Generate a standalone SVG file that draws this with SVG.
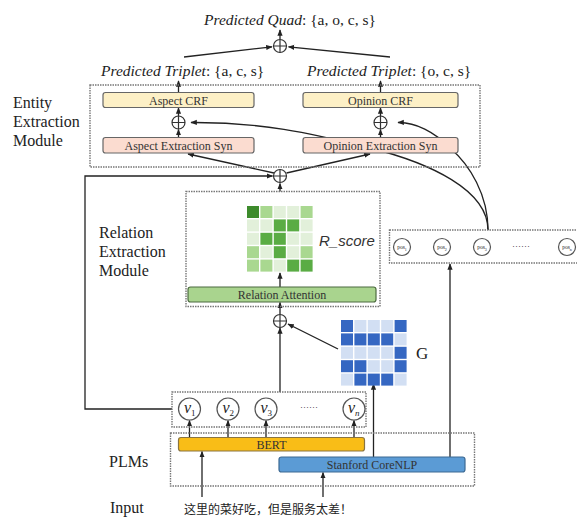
<svg xmlns="http://www.w3.org/2000/svg" width="577" height="517" viewBox="0 0 577 517">
<defs>
<marker id="arr" viewBox="0 0 10 10" refX="9" refY="5" markerWidth="5" markerHeight="5" orient="auto"><path d="M0,1L10,5L0,9z" fill="#222"/></marker>
<g id="oplus"><circle r="6.5" fill="#fff" stroke="#333" stroke-width="1.2"/><path d="M-6.5,0H6.5M0,-6.5V6.5" stroke="#333" stroke-width="1.2"/></g>
</defs>
<style>
.t{font-family:"Liberation Serif","Times New Roman",serif;fill:#222}
.lbl{font-size:16px}
.hd{font-size:15.5px}
.it{font-style:italic}
.bx{font-size:12px;text-anchor:middle;fill:#333}
.dot{fill:none;stroke:#777;stroke-width:1.4;stroke-dasharray:1.5 1}
.ln{fill:none;stroke:#222;stroke-width:1.3;marker-end:url(#arr)}
.pl{fill:none;stroke:#222;stroke-width:1.3}
.crf{fill:#fdf0c6;stroke:#666;stroke-width:1.2}
.syn{fill:#fbdcd0;stroke:#666;stroke-width:1.2}
.cir{fill:#fff;stroke:#555;stroke-width:1.2}
.g1{fill:#3d8b2c}.g2{fill:#5aac44}.g3{fill:#a9d890}.g4{fill:#e2f0da}
.b1{fill:#3567c2}.b2{fill:#d2dff3}
</style>
<rect width="577" height="517" fill="#fff"/>

<g id="connectors">
<path class="ln" d="M280,39V30"/>
<path class="ln" d="M184,57L272,46.8"/>
<path class="ln" d="M390,57L288.5,46.8"/>
<path class="ln" d="M178.5,92.5V81"/>
<path class="ln" d="M380.5,92.5V81"/>
<path class="ln" d="M178.5,116V108"/>
<path class="ln" d="M178.5,137.5V129.5"/>
<path class="ln" d="M380.5,116V108"/>
<path class="ln" d="M380.5,137.5V129.5"/>
<path class="ln" d="M274,173L188,154"/>
<path class="ln" d="M286.5,173L370,154"/>
<path class="ln" d="M280,191.5V183.5"/>
<path class="ln" d="M172,409H85V176H272.5"/>
<path class="ln" d="M488,230C488,190 430,163 370,148S260,122 191,122.5"/>
<path class="ln" d="M488,230C488,195 470,165 450,148C435,132 415,122 398,122.5"/>
<path class="ln" d="M280,287V273"/>
<path class="ln" d="M280,314V302.5"/>
<path class="ln" d="M338,349L288,324"/>
<path class="ln" d="M280,392V328"/>
<path class="ln" d="M189.5,437.5V420.5"/>
<path class="ln" d="M228,437.5V420.5"/>
<path class="ln" d="M266,437.5V420.5"/>
<path class="ln" d="M354,437.5V420.5"/>
<path class="ln" d="M373.5,457V384"/>
<path class="ln" d="M450,457V264"/>
<path class="ln" d="M202,497V451.5"/>
<path class="ln" d="M323,497V472.5"/>
</g>

<g id="predicted-quad"><text class="t hd" x="204" y="25"><tspan class="it">Predicted Quad</tspan>: {a, o, c, s}</text></g>
<g id="oplus-top"><use href="#oplus" x="280" y="46"/></g>
<g id="triplet-aspect"><text class="t hd" x="101" y="76"><tspan class="it">Predicted Triplet</tspan>: {a, c, s}</text></g>
<g id="triplet-opinion"><text class="t hd" x="307" y="76"><tspan class="it">Predicted Triplet</tspan>: {o, c, s}</text></g>

<g id="entity-module">
<rect class="dot" x="90" y="85" width="390" height="82"/>
<text class="t lbl" x="13" y="108">Entity</text>
<text class="t lbl" x="13" y="127">Extraction</text>
<text class="t lbl" x="13" y="146">Module</text>
</g>
<g id="aspect-crf"><rect class="crf" x="103" y="92.5" width="151" height="15" rx="2.5"/><text class="t bx" x="178.5" y="104.5">Aspect CRF</text></g>
<g id="opinion-crf"><rect class="crf" x="303" y="92.5" width="155" height="15" rx="2.5"/><text class="t bx" x="380.5" y="104.5">Opinion CRF</text></g>
<g id="oplus-aspect"><use href="#oplus" x="178.5" y="122.5"/></g>
<g id="oplus-opinion"><use href="#oplus" x="380.5" y="122.5"/></g>
<g id="aspect-syn"><rect class="syn" x="103" y="137.5" width="151" height="15.5" rx="2.5"/><text class="t bx" x="178.5" y="149.5">Aspect Extraction Syn</text></g>
<g id="opinion-syn"><rect class="syn" x="303" y="137.5" width="155" height="15.5" rx="2.5"/><text class="t bx" x="380.5" y="149.5">Opinion Extraction Syn</text></g>
<g id="oplus-mid"><use href="#oplus" x="280" y="176"/></g>

<g id="relation-module">
<rect class="dot" x="186" y="191.5" width="194" height="115"/>
<text class="t lbl" x="99" y="238">Relation</text>
<text class="t lbl" x="99" y="257">Extraction</text>
<text class="t lbl" x="99" y="276">Module</text>
</g>
<g id="r-score">
<rect class="g1" x="247" y="206" width="12" height="12"/><rect class="g3" x="260.4" y="206" width="12" height="12"/><rect class="g4" x="273.8" y="206" width="12" height="12"/><rect class="g4" x="287.2" y="206" width="12" height="12"/><rect class="g3" x="300.6" y="206" width="12" height="12"/>
<rect class="g4" x="247" y="219.4" width="12" height="12"/><rect class="g4" x="260.4" y="219.4" width="12" height="12"/><rect class="g2" x="273.8" y="219.4" width="12" height="12"/><rect class="g2" x="287.2" y="219.4" width="12" height="12"/><rect class="g4" x="300.6" y="219.4" width="12" height="12"/>
<rect class="g4" x="247" y="232.8" width="12" height="12"/><rect class="g2" x="260.4" y="232.8" width="12" height="12"/><rect class="g2" x="273.8" y="232.8" width="12" height="12"/><rect class="g4" x="287.2" y="232.8" width="12" height="12"/><rect class="g4" x="300.6" y="232.8" width="12" height="12"/>
<rect class="g3" x="247" y="246.2" width="12" height="12"/><rect class="g4" x="260.4" y="246.2" width="12" height="12"/><rect class="g2" x="273.8" y="246.2" width="12" height="12"/><rect class="g4" x="287.2" y="246.2" width="12" height="12"/><rect class="g3" x="300.6" y="246.2" width="12" height="12"/>
<rect class="g3" x="247" y="259.6" width="12" height="12"/><rect class="g3" x="260.4" y="259.6" width="12" height="12"/><rect class="g4" x="273.8" y="259.6" width="12" height="12"/><rect class="g2" x="287.2" y="259.6" width="12" height="12"/><rect class="g2" x="300.6" y="259.6" width="12" height="12"/>
<text x="319" y="246" style="font-family:'Liberation Sans',Arial,sans-serif;font-style:italic;font-size:15px;fill:#333">R_score</text>
</g>
<g id="relation-attention"><rect x="188" y="287" width="188" height="15" rx="2.5" fill="#a9d48e" stroke="#4d6b40" stroke-width="1.2"/><text class="t bx" x="282" y="299">Relation Attention</text></g>
<g id="oplus-rel"><use href="#oplus" x="280" y="321"/></g>

<g id="g-matrix">
<rect class="b1" x="341" y="320" width="12" height="12"/><rect class="b2" x="354.4" y="320" width="12" height="12"/><rect class="b2" x="367.8" y="320" width="12" height="12"/><rect class="b2" x="381.2" y="320" width="12" height="12"/><rect class="b1" x="394.6" y="320" width="12" height="12"/>
<rect class="b1" x="341" y="333.4" width="12" height="12"/><rect class="b1" x="354.4" y="333.4" width="12" height="12"/><rect class="b1" x="367.8" y="333.4" width="12" height="12"/><rect class="b1" x="381.2" y="333.4" width="12" height="12"/><rect class="b2" x="394.6" y="333.4" width="12" height="12"/>
<rect class="b2" x="341" y="346.8" width="12" height="12"/><rect class="b2" x="354.4" y="346.8" width="12" height="12"/><rect class="b2" x="367.8" y="346.8" width="12" height="12"/><rect class="b2" x="381.2" y="346.8" width="12" height="12"/><rect class="b1" x="394.6" y="346.8" width="12" height="12"/>
<rect class="b1" x="341" y="360.2" width="12" height="12"/><rect class="b1" x="354.4" y="360.2" width="12" height="12"/><rect class="b2" x="367.8" y="360.2" width="12" height="12"/><rect class="b2" x="381.2" y="360.2" width="12" height="12"/><rect class="b1" x="394.6" y="360.2" width="12" height="12"/>
<rect class="b2" x="341" y="373.6" width="12" height="12"/><rect class="b1" x="354.4" y="373.6" width="12" height="12"/><rect class="b1" x="367.8" y="373.6" width="12" height="12"/><rect class="b1" x="381.2" y="373.6" width="12" height="12"/><rect class="b2" x="394.6" y="373.6" width="12" height="12"/>
<text class="t" x="416" y="359" style="font-size:17px">G</text>
</g>

<g id="pos-box">
<rect class="dot" x="389.5" y="230" width="190" height="33"/>
<circle class="cir" cx="402" cy="247" r="8.5"/><text class="t" x="402" y="249" text-anchor="middle" style="font-size:5.5px">pos<tspan dy="1.5" style="font-size:4px">1</tspan></text>
<circle class="cir" cx="442" cy="247" r="8.5"/><text class="t" x="442" y="249" text-anchor="middle" style="font-size:5.5px">pos<tspan dy="1.5" style="font-size:4px">2</tspan></text>
<circle class="cir" cx="482" cy="247" r="8.5"/><text class="t" x="482" y="249" text-anchor="middle" style="font-size:5.5px">pos<tspan dy="1.5" style="font-size:4px">3</tspan></text>
<text class="t" x="521" y="247" text-anchor="middle" style="font-size:9px">……</text>
<circle class="cir" cx="567" cy="247" r="8.5"/><text class="t" x="567" y="249" text-anchor="middle" style="font-size:5.5px">pos<tspan dy="1.5" style="font-size:4px">n</tspan></text>
</g>

<g id="v-box">
<rect class="dot" x="172" y="392" width="194" height="35"/>
<circle class="cir" cx="189.5" cy="409" r="11"/><text class="t it" x="184" y="413" style="font-size:16px">v<tspan dy="3" style="font-size:9px;font-style:normal">1</tspan></text>
<circle class="cir" cx="228" cy="409" r="11"/><text class="t it" x="222.5" y="413" style="font-size:16px">v<tspan dy="3" style="font-size:9px;font-style:normal">2</tspan></text>
<circle class="cir" cx="266" cy="409" r="11"/><text class="t it" x="260.5" y="413" style="font-size:16px">v<tspan dy="3" style="font-size:9px;font-style:normal">3</tspan></text>
<text class="t" x="309" y="408" text-anchor="middle" style="font-size:9px">……</text>
<circle class="cir" cx="354" cy="409" r="11"/><text class="t it" x="348" y="413" style="font-size:16px">v<tspan dy="3" style="font-size:9px">n</tspan></text>
</g>

<g id="plms">
<rect class="dot" x="170.5" y="433" width="304" height="53"/>
<text class="t lbl" x="109" y="467">PLMs</text>
</g>
<g id="bert"><rect x="178.5" y="437.5" width="186" height="13.5" rx="2.5" fill="#f9bd17" stroke="#8a7440" stroke-width="1.2"/><text class="t bx" x="271.5" y="448.5">BERT</text></g>
<g id="stanford-corenlp"><rect x="279" y="457" width="186" height="15" rx="2.5" fill="#5b9bd5" stroke="#3d6a94" stroke-width="1.2"/><text class="t bx" x="372" y="469">Stanford CoreNLP</text></g>

<g id="input">
<text class="t lbl" x="110" y="513">Input</text>
<text x="184" y="514" style="font-family:'Noto Sans CJK SC',sans-serif;font-size:12px;fill:#222">这里的菜好吃，但是服务太差！</text>
</g>
</svg>
